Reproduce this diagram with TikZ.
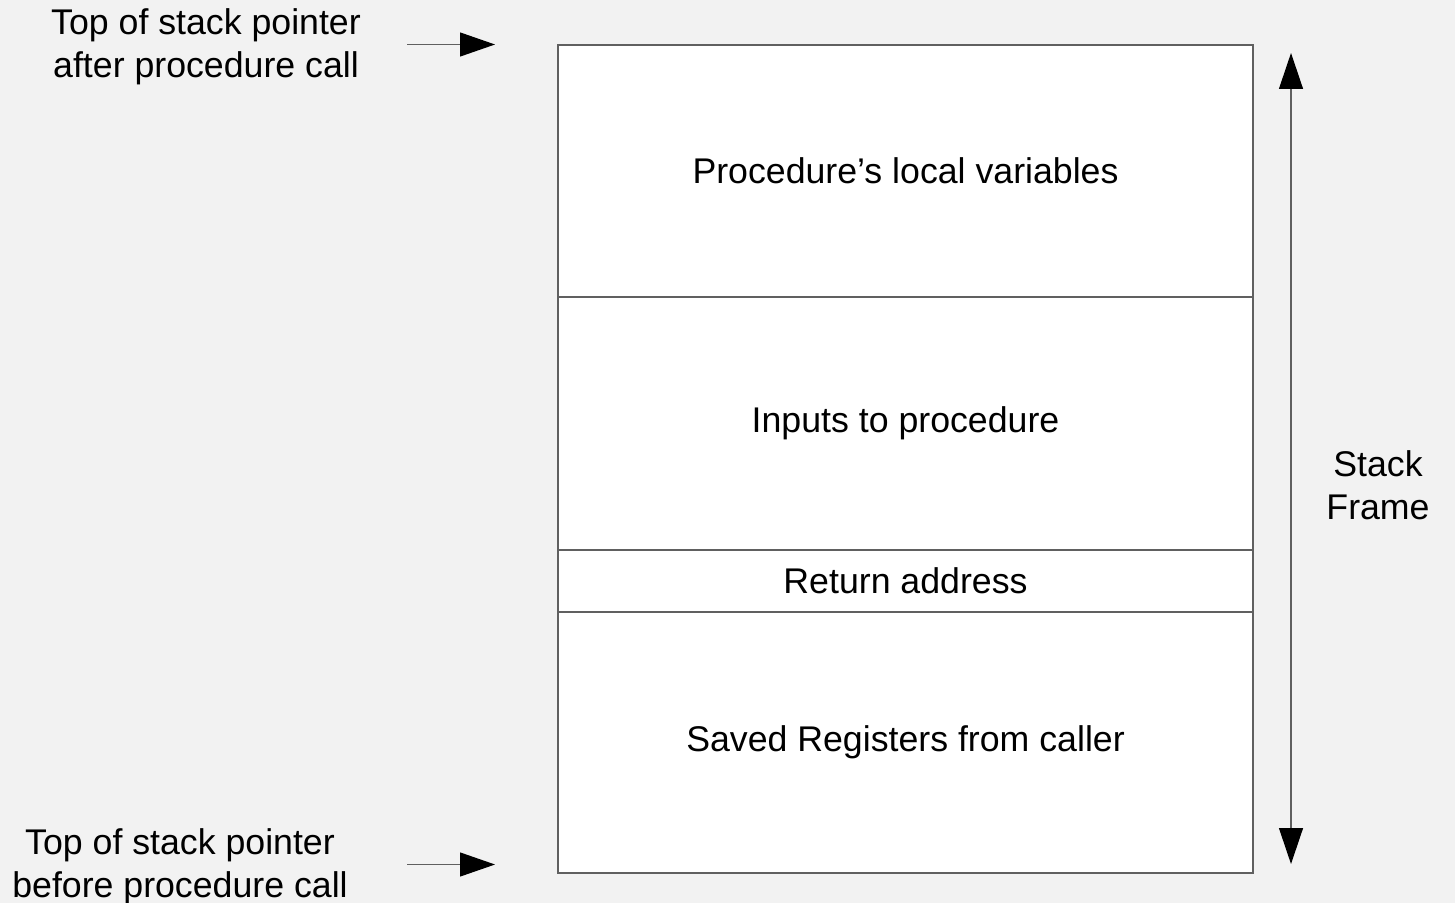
\documentclass[tikz,border=0pt]{standalone}
\usepackage{fontspec}
\setmainfont{Liberation Sans}
\usepackage{xcolor}
\usetikzlibrary{arrows.meta}
\usetikzlibrary{positioning}

\definecolor{pagebg}{RGB}{242,242,242}
\definecolor{edgegray}{RGB}{96,96,96}

\tikzset{
  cell/.style={draw=edgegray, fill=white, line width=0.6pt, minimum width=347.5pt, inner sep=0pt, outer sep=0pt, font=\fontsize{17.85}{21.5}\selectfont},
  lbl/.style={align=center, inner sep=0pt, font=\fontsize{17.85}{21.5}\selectfont},
  ptr/.style={draw=edgegray, line width=0.6pt, -{Triangle[length=17.5pt,width=12pt,color=black]}},
  span/.style={draw=edgegray, line width=0.6pt, {Triangle[length=18pt,width=12pt,color=black]}-{Triangle[length=18pt,width=12pt,color=black]}}
}

\begin{document}
\begin{tikzpicture}[x=0.5pt,y=0.5pt,yscale=-1,xscale=1]
  %background, sets the size of the diagram
  \fill [pagebg] (0,0) rectangle (1455,903);
  \useasboundingbox (0,0) rectangle (1455,903);

  %Rect: stack frame cells
  \node [cell, anchor=north west, minimum height=126pt] (locals) at (558,45) {Procedure’s local variables};
  \node [cell, below=0pt of locals, minimum height=126.5pt] (inputs) {Inputs to procedure};
  \node [cell, below=0pt of inputs, minimum height=31pt] (retaddr) {Return address};
  \node [cell, below=0pt of retaddr, minimum height=130.5pt] (saved) {Saved Registers from caller};

  % Text Node
  \node [lbl] (toplbl) at (206,47) {Top of stack pointer\\after procedure call};
  % Text Node
  \node [lbl] (botlbl) at (180,866.5) {Top of stack pointer\\before procedure call};
  % Text Node
  \node [lbl] (framelbl) at (1378,485) {Stack\\Frame};

  %Straight Lines
  \coordinate (topfrom) at (407,44.5);
  \coordinate (topto) at (495,44.5);
  \draw [ptr] (topfrom) -- (topto);
  %Straight Lines
  \coordinate (botfrom) at (407,864.5);
  \coordinate (botto) at (495,864.5);
  \draw [ptr] (botfrom) -- (botto);
  %Straight Lines
  \coordinate (spantop) at (1291,53);
  \coordinate (spanbot) at (1291,864);
  \draw [span] (spantop) -- (spanbot);
\end{tikzpicture}
\end{document}
